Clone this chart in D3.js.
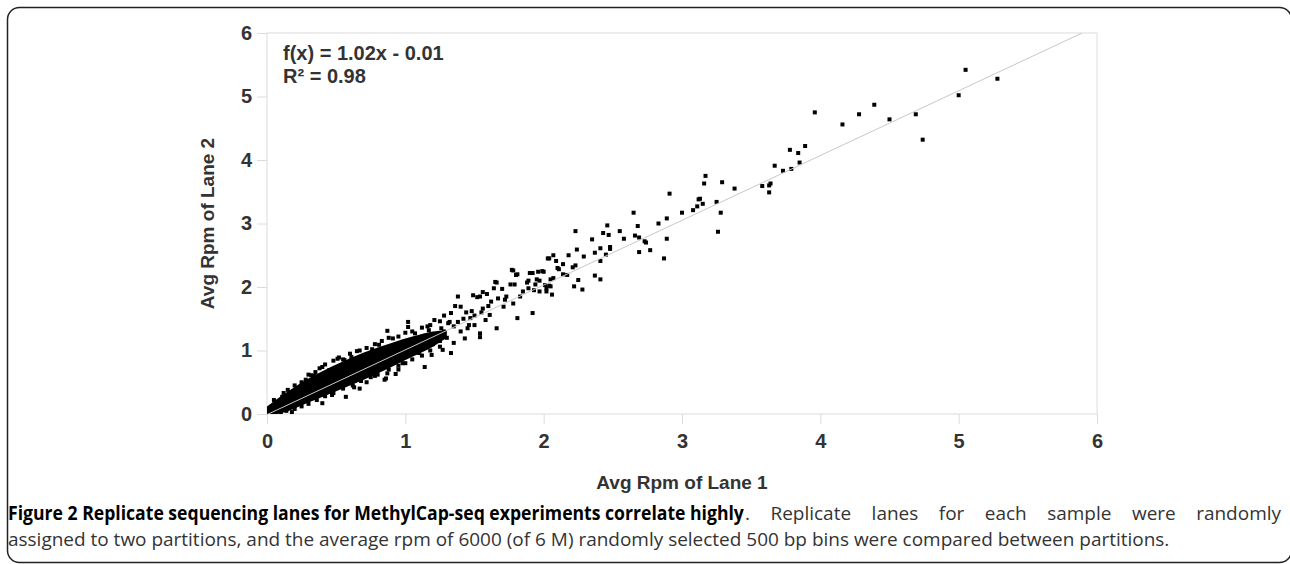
<!DOCTYPE html>
<html>
<head>
<meta charset="utf-8">
<script src="https://cdn.jsdelivr.net/npm/d3@7"></script>
<style>
  body { margin: 0; background: #fff; }
  svg { display: block; }
</style>
</head>
<body>
<div id="wrapper"></div>
<script>
// scattered points (avg rpm lane 1 / lane 2)
const lane1 = [
  5.05, 5.28, 5.00, 4.74, 4.69, 4.50, 4.39, 4.28, 4.16, 3.96, 3.89, 3.78, 3.84, 3.85, 3.79, 3.73, 3.67, 3.64, 3.63, 3.58,
  3.63, 3.38, 3.29, 3.17, 3.16, 3.25, 3.15, 3.28, 3.13, 3.26, 2.91, 3.12, 3.11, 3.08, 3.00, 2.89, 2.83, 2.89, 2.87, 2.77,
  2.69, 2.65, 2.68, 2.66, 2.69, 2.73, 2.74, 2.58, 2.55, 2.46, 2.47, 2.43, 2.48, 2.48, 2.41, 2.45, 2.41, 2.37, 2.35, 2.23,
  2.24, 2.29, 2.37, 2.41, 2.18, 2.28, 2.22, 2.25, 2.23, 2.21, 2.17, 2.14, 2.11, 2.14, 2.09, 2.07, 2.04, 2.10, 2.07, 2.05,
  2.06, 2.04, 2.01, 1.99, 1.96, 1.90, 1.95, 1.89, 1.97, 1.94, 1.77, 1.80, 1.65, 1.76, 1.79, 1.70, 1.64, 1.56, 1.59, 1.52,
  1.85, 1.89, 1.83, 1.72, 1.78, 1.62, 1.67, 2.05, 2.02, 1.97, 1.78, 1.81, 1.92, 2.00, 2.03, 1.66, 1.88, 1.93, 2.02, 1.92,
  1.81, 1.66, 1.54, 1.33, 1.14, 1.38, 1.54, 1.56, 1.61, 1.71, 1.73, 1.47, 1.26, 1.19, 1.02, 0.87, 0.67, 0.52, 0.32, 0.87,
  0.85, 1.49, 1.36, 1.40, 1.33, 1.02, 0.91, 0.51, 0.56, 0.40, 0.34, 0.93, 0.86, 0.67, 0.57, 0.40, 1.27, 1.19, 1.10, 1.54,
  1.43, 1.46, 1.21, 1.25, 1.31, 1.17, 1.07, 1.10, 0.76, 0.81, 0.61, 0.54, 0.45, 0.28, 0.22, 0.11, 0.06, 1.15, 1.22, 1.28,
  1.30, 1.35, 1.38, 1.42, 1.45, 1.50, 1.48, 1.40, 1.32, 1.25, 1.20, 1.12, 1.35, 1.50, 1.55, 1.58, 1.60, 1.44, 1.28, 1.18,
  1.08, 0.98, 0.72, 0.63, 0.47, 0.18, 0.95, 0.78,
  // ragged edge of the dense band
  0.05, 0.12, 0.15, 0.20, 0.25, 0.30, 0.35, 0.38, 0.42, 0.48, 0.55, 0.60, 0.65, 0.72, 0.78, 0.83, 0.88, 0.95, 1.00, 1.05,
  1.12, 1.16, 0.10, 0.14, 0.20, 0.25, 0.30, 0.36, 0.42, 0.48, 0.55, 0.62, 0.68, 0.75, 0.80, 0.88, 0.95, 1.00, 1.05, 1.12,
  1.18, 1.25
]
const lane2 = [
  5.42, 5.28, 5.02, 4.32, 4.72, 4.64, 4.87, 4.72, 4.56, 4.75, 4.22, 4.16, 4.11, 3.96, 3.86, 3.83, 3.91, 3.63, 3.60, 3.59,
  3.49, 3.55, 3.65, 3.75, 3.63, 3.34, 3.31, 3.17, 3.39, 2.87, 3.47, 3.38, 3.27, 3.21, 3.17, 3.08, 3.00, 2.76, 2.45, 2.58,
  2.55, 3.17, 2.96, 2.81, 2.78, 2.72, 2.70, 2.76, 2.88, 2.97, 2.82, 2.85, 2.63, 2.60, 2.61, 2.51, 2.41, 2.54, 2.75, 2.88,
  2.59, 2.48, 2.18, 2.12, 2.50, 1.96, 2.01, 2.11, 2.34, 2.31, 2.19, 2.20, 2.28, 2.36, 2.41, 2.50, 2.45, 2.30, 2.14, 2.12,
  1.88, 2.02, 2.03, 2.25, 2.24, 2.22, 2.12, 2.10, 2.10, 2.04, 2.27, 2.19, 2.08, 2.04, 2.04, 1.97, 1.98, 1.92, 1.89, 1.84,
  1.93, 1.98, 1.85, 1.80, 1.74, 1.77, 1.82, 2.01, 1.93, 1.93, 2.26, 2.20, 2.22, 2.24, 2.45, 2.07, 2.07, 1.95, 1.98, 1.59,
  1.51, 1.35, 1.21, 0.96, 0.74, 1.85, 1.85, 1.66, 1.56, 1.69, 1.85, 1.51, 1.35, 1.22, 1.45, 1.31, 1.00, 0.89, 0.61, 0.64,
  0.54, 1.87, 1.70, 1.69, 1.59, 1.37, 1.19, 0.87, 0.85, 0.74, 0.60, 0.63, 0.56, 0.40, 0.27, 0.17, 1.01, 0.93, 0.96, 1.27,
  1.19, 1.40, 1.48, 1.46, 1.43, 1.32, 1.27, 1.17, 1.02, 1.09, 0.90, 0.74, 0.69, 0.54, 0.40, 0.27, 0.19, 1.20, 1.25, 1.30,
  1.20, 1.38, 1.45, 1.50, 1.35, 1.55, 1.62, 1.30, 1.45, 1.15, 1.10, 1.05, 1.12, 1.40, 1.60, 1.48, 1.70, 1.60, 1.55, 1.40,
  1.10, 0.80, 0.50, 0.42, 0.30, 0.03, 0.70, 0.60,
  0.22, 0.33, 0.38, 0.45, 0.50, 0.62, 0.66, 0.72, 0.78, 0.84, 0.86, 0.95, 0.99, 1.04, 1.10, 1.15, 1.20, 1.22, 1.28, 1.30,
  1.36, 1.38, 0.00, 0.05, 0.08, 0.12, 0.16, 0.22, 0.28, 0.33, 0.40, 0.45, 0.52, 0.58, 0.62, 0.70, 0.76, 0.80, 0.86, 0.92,
  1.00, 1.06
]

// solid core of the ~6000 overlapping points near the origin
const coreX    = [0.00, 0.10, 0.30, 0.50, 0.70, 0.90, 1.05, 1.20, 1.30]
const coreLow  = [-0.02, 0.01, 0.18, 0.36, 0.54, 0.74, 0.90, 1.06, 1.20]
const coreHigh = [0.12, 0.28, 0.56, 0.78, 0.97, 1.12, 1.22, 1.30, 1.32]

const xTicks = [0, 1, 2, 3, 4, 5, 6]
const yTicks = [0, 1, 2, 3, 4, 5, 6]
const fitSlope = 1.02
const fitIntercept = -0.01
const fitText = "f(x) = 1.02x - 0.01"
const r2Text = "R² = 0.98"
const xTitle = "Avg Rpm of Lane 1"
const yTitle = "Avg Rpm of Lane 2"
const captionBold = "Figure 2 Replicate sequencing lanes for MethylCap-seq experiments correlate highly"
const captionLine1 = ". Replicate lanes for each sample were randomly"
const captionLine2 = "assigned to two partitions, and the average rpm of 6000 (of 6 M) randomly selected 500 bp bins were compared between partitions."

const dataset = lane1.map((d, i) => ({ x: d, y: lane2[i] }))
const core = coreX.map((d, i) => ({ x: d, lo: coreLow[i], hi: coreHigh[i] }))

// dimensions
let dimensions = {
  width: 1290,
  height: 564,
  margins: { top: 33, right: 193, bottom: 150, left: 267 },
}
dimensions.boundedWidth = dimensions.width - dimensions.margins.left - dimensions.margins.right
dimensions.boundedHeight = dimensions.height - dimensions.margins.top - dimensions.margins.bottom

const wrapper = d3.select("#wrapper")
  .append("svg")
  .attr("width", dimensions.width)
  .attr("height", dimensions.height)

// figure frame
wrapper.append("rect")
  .attr("x", 7.5)
  .attr("y", 7.5)
  .attr("width", 1284)
  .attr("height", 555)
  .attr("rx", 12)
  .attr("fill", "none")
  .attr("stroke", "#222")
  .attr("stroke-width", 1.5)

const bounds = wrapper.append("g")
  .attr("transform", `translate(${dimensions.margins.left},${dimensions.margins.top})`)

const xScale = d3.scaleLinear().domain([0, 6]).range([0, dimensions.boundedWidth])
const yScale = d3.scaleLinear().domain([0, 6]).range([dimensions.boundedHeight, 0])

const gridColor = "#dcdcdc"
const labelColor = "#333"
const sansBold = "'Liberation Sans', Arial, sans-serif"

// plot frame
bounds.append("rect")
  .attr("width", dimensions.boundedWidth)
  .attr("height", dimensions.boundedHeight)
  .attr("fill", "none")
  .attr("stroke", gridColor)
  .attr("stroke-width", 1)

bounds.append("defs").append("clipPath").attr("id", "plot-clip")
  .append("rect")
  .attr("width", dimensions.boundedWidth)
  .attr("height", dimensions.boundedHeight)

const plot = bounds.append("g").attr("clip-path", "url(#plot-clip)")

// dense core
const areaGenerator = d3.area()
  .x(d => xScale(d.x))
  .y0(d => yScale(d.lo))
  .y1(d => yScale(d.hi))
  .curve(d3.curveMonotoneX)

plot.append("path")
  .attr("d", areaGenerator(core))
  .attr("fill", "#000")

// points
const size = 4
plot.selectAll(".pt")
  .data(dataset)
  .join("rect")
  .attr("class", "pt")
  .attr("x", d => xScale(d.x) - size / 2)
  .attr("y", d => yScale(d.y) - size / 2)
  .attr("width", size)
  .attr("height", size)
  .attr("fill", "#000")

// regression line
const fitEnd = (6 - fitIntercept) / fitSlope
plot.append("line")
  .attr("x1", xScale(0))
  .attr("y1", yScale(fitIntercept))
  .attr("x2", xScale(fitEnd))
  .attr("y2", yScale(fitSlope * fitEnd + fitIntercept))
  .attr("stroke", "#c8c8c8")
  .attr("stroke-width", 1)

// axes
const xAxisGenerator = d3.axisBottom(xScale).tickValues(xTicks).tickSize(10).tickPadding(10).tickFormat(d3.format("d"))
const xAxis = bounds.append("g")
  .attr("transform", `translate(0,${dimensions.boundedHeight})`)
  .call(xAxisGenerator)

const yAxisGenerator = d3.axisLeft(yScale).tickValues(yTicks).tickSize(10).tickPadding(5).tickFormat(d3.format("d"))
const yAxis = bounds.append("g").call(yAxisGenerator)

;[xAxis, yAxis].forEach(ax => {
  ax.select(".domain").remove()
  ax.selectAll(".tick line").attr("stroke", gridColor)
  ax.selectAll(".tick text")
    .attr("fill", labelColor)
    .style("font-family", sansBold)
    .style("font-weight", "bold")
    .style("font-size", "20px")
})

// axis titles
wrapper.append("text")
  .attr("x", dimensions.margins.left + dimensions.boundedWidth / 2)
  .attr("y", 489)
  .attr("text-anchor", "middle")
  .attr("fill", labelColor)
  .style("font-family", sansBold)
  .style("font-weight", "bold")
  .style("font-size", "19px")
  .text(xTitle)

wrapper.append("text")
  .attr("transform", `translate(214,${dimensions.margins.top + dimensions.boundedHeight / 2}) rotate(-90)`)
  .attr("text-anchor", "middle")
  .attr("fill", labelColor)
  .style("font-family", sansBold)
  .style("font-weight", "bold")
  .style("font-size", "19px")
  .text(yTitle)

// fit annotation
const note = bounds.append("text")
  .attr("fill", labelColor)
  .style("font-family", sansBold)
  .style("font-weight", "bold")
  .style("font-size", "20px")
note.append("tspan").attr("x", 16).attr("y", 27).text(fitText)
note.append("tspan").attr("x", 16).attr("y", 50).text(r2Text)

// caption: second line sets the size, first line is justified to the frame
const captionFont = "'Open Sans', 'Noto Sans', sans-serif"
const line2Width = 1162
const boldWidth = 736
const line1End = 1281

const cap2 = wrapper.append("text")
  .attr("x", 8)
  .attr("y", 546)
  .attr("fill", "#333")
  .style("font-family", captionFont)
  .style("font-size", "17px")
  .text(captionLine2)
const captionSize = 17 * line2Width / cap2.node().getComputedTextLength()
cap2.style("font-size", `${captionSize}px`)

// bold heading, squeezed a little like the journal's condensed bold
const capBold = wrapper.append("g")
const capBoldText = capBold.append("text")
  .attr("fill", "#000")
  .attr("font-weight", "bold")
  .style("font-family", captionFont)
  .style("font-size", `${captionSize}px`)
  .text(captionBold)
const boldSqueeze = boldWidth / capBoldText.node().getComputedTextLength()
capBold.attr("transform", `translate(8,520) scale(${boldSqueeze},1)`)

const cap1 = wrapper.append("text")
  .attr("x", 8 + boldWidth + 1)
  .attr("y", 520)
  .attr("fill", "#333")
  .style("font-family", captionFont)
  .style("font-size", `${captionSize}px`)
  .text(captionLine1)
const natural1 = cap1.node().getComputedTextLength()
const spaces1 = captionLine1.split(" ").length - 1
cap1.style("word-spacing", `${Math.max(0, (line1End - 9 - boldWidth - natural1) / spaces1)}px`)
</script>
</body>
</html>
